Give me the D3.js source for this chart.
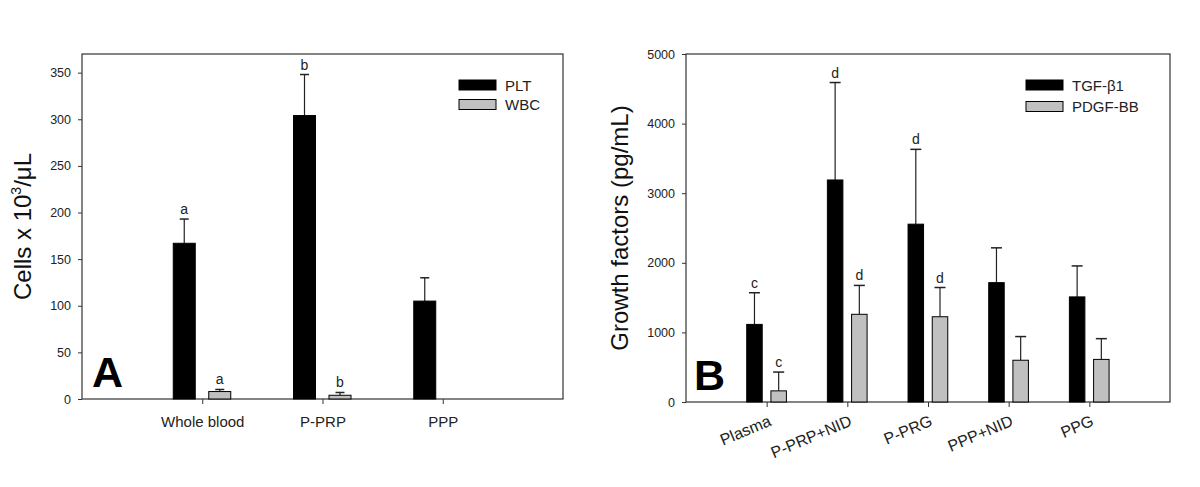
<!DOCTYPE html>
<html lang="en">
<head>
<meta charset="utf-8">
<title>Cells and growth factors</title>
<script src="https://d3js.org/d3.v7.min.js"></script>
<style>
  body { margin: 0; background: #fff; }
  svg { display: block; font-family: "Liberation Sans", Arial, sans-serif; }
</style>
</head>
<body>
<div id="chart"></div>
<script>
// ---- panel A data ----
const catsA = ["Whole blood", "P-PRP", "PPP"];
const pltVals = [167, 304, 105];
const pltErr = [26, 44, 25];
const pltLetters = ["a", "b", ""];
const wbcVals = [8, 4, null];
const wbcErr = [2.2, 3, null];
const wbcLetters = ["a", "b", ""];
const ticksA = [0, 50, 100, 150, 200, 250, 300, 350];

// ---- panel B data ----
const catsB = ["Plasma", "P-PRP+NID", "P-PRG", "PPP+NID", "PPG"];
const tgfVals = [1115, 3190, 2555, 1715, 1510];
const tgfErr = [455, 1400, 1075, 500, 445];
const tgfLetters = ["c", "d", "d", "", ""];
const pdgfVals = [160, 1260, 1225, 600, 612];
const pdgfErr = [270, 415, 420, 340, 298];
const pdgfLetters = ["c", "d", "d", "", ""];
const ticksB = [0, 1000, 2000, 3000, 4000, 5000];

const width = 1200, height = 487;
const svg = d3.select("#chart").append("svg")
  .attr("width", width).attr("height", height);

function panel(o) {
  const x = d3.scaleLinear().domain([0, o.cats.length + 1]).range([o.left, o.right]);
  const y = d3.scaleLinear().domain([0, o.ymax]).range([o.bottom, o.top]);
  const g = svg.append("g");

  // frame
  g.append("rect")
    .attr("x", o.left).attr("y", o.top)
    .attr("width", o.right - o.left).attr("height", o.bottom - o.top)
    .attr("fill", "none").attr("stroke", "#333").attr("stroke-width", 1.2);

  // y axis
  g.append("g")
    .attr("transform", `translate(${o.left},0)`)
    .call(d3.axisLeft(y).tickValues(o.ticks).tickSize(4).tickPadding(7).tickFormat(d3.format("d")))
    .call(a => a.select(".domain").remove())
    .call(a => a.selectAll("line").attr("stroke", "#333"))
    .call(a => a.selectAll("text").attr("font-size", 12.5).attr("fill", "#222")
      .attr("font-family", "Liberation Sans, Arial, sans-serif"));

  // x axis
  const xa = g.append("g")
    .attr("transform", `translate(0,${o.bottom})`)
    .call(d3.axisBottom(x).tickValues(d3.range(1, o.cats.length + 1))
      .tickSize(5).tickPadding(12).tickFormat((d, i) => o.cats[i]))
    .call(a => a.select(".domain").remove())
    .call(a => a.selectAll("line").attr("stroke", "#333"))
    .call(a => a.selectAll("text").attr("font-size", 15).attr("fill", "#222")
      .attr("font-family", "Liberation Sans, Arial, sans-serif"));
  if (o.rotate) {
    xa.selectAll("text")
      .attr("text-anchor", "end")
      .attr("font-size", 16)
      .attr("dy", null)
      .attr("y", null)
      .attr("transform", `translate(5,23) rotate(${o.rotate})`);
  }

  // series
  o.series.forEach(s => {
    const cx = (i) => x(i + 1) + s.offset;
    const data = s.vals.map((v, i) => ({v, e: s.err[i], l: s.letters[i], i}))
      .filter(d => d.v != null);
    const sg = g.append("g");
    // error bars (upper only)
    sg.selectAll(".eb").data(data).join("line")
      .attr("x1", d => cx(d.i)).attr("x2", d => cx(d.i))
      .attr("y1", d => y(d.v)).attr("y2", d => y(d.v + d.e))
      .attr("stroke", "#222").attr("stroke-width", 1.2);
    sg.selectAll(".cap").data(data).join("line")
      .attr("x1", d => cx(d.i) - o.cap / 2).attr("x2", d => cx(d.i) + o.cap / 2)
      .attr("y1", d => y(d.v + d.e)).attr("y2", d => y(d.v + d.e))
      .attr("stroke", "#222").attr("stroke-width", 1.5);
    sg.selectAll("rect").data(data).join("rect")
      .attr("x", d => cx(d.i) - o.bw / 2).attr("width", o.bw)
      .attr("y", d => y(d.v)).attr("height", d => y(0) - y(d.v))
      .attr("fill", s.fill).attr("stroke", "#000").attr("stroke-width", 1);
    sg.selectAll("text").data(data.filter(d => d.l)).join("text")
      .attr("x", d => cx(d.i)).attr("y", d => y(d.v + d.e) - 5)
      .attr("text-anchor", "middle").attr("font-size", 14).attr("fill", "#222")
      .text(d => d.l);
  });

  // legend
  o.series.forEach((s, k) => {
    const ly = o.legY + k * o.legGap;
    g.append("rect").attr("x", o.legX).attr("y", ly).attr("width", 37).attr("height", 10)
      .attr("fill", s.fill).attr("stroke", "#000").attr("stroke-width", 1);
    g.append("text").attr("x", o.legX + 46).attr("y", ly + 10.5)
      .attr("font-size", 15).attr("fill", "#222").text(s.name);
  });

  // panel letter
  g.append("text").attr("x", o.letterX).attr("y", o.bottom - 12)
    .attr("font-size", 43).attr("font-weight", "bold").attr("fill", "#000").text(o.letter);

  // y title
  const yt = g.append("text")
    .attr("transform", `translate(${o.titleX},${(o.top + o.bottom) / 2}) rotate(-90)`)
    .attr("text-anchor", "middle").attr("font-size", 24).attr("fill", "#111");
  o.title(yt);
}

panel({
  cats: catsA, ymax: 370, ticks: ticksA,
  left: 82, right: 563, top: 54, bottom: 399,
  bw: 22, cap: 9,
  series: [
    {name: "PLT", vals: pltVals, err: pltErr, letters: pltLetters, fill: "#000", offset: -18},
    {name: "WBC", vals: wbcVals, err: wbcErr, letters: wbcLetters, fill: "#c0c0c0", offset: 17.5}
  ],
  legX: 459, legY: 80, legGap: 19.5,
  letter: "A", letterX: 92, titleX: 31,
  title: t => {
    t.append("tspan").text("Cells x 10");
    t.append("tspan").attr("font-size", 14).attr("dy", -10).text("3");
    t.append("tspan").attr("dy", 10).text("/\u03BCL");
  }
});

panel({
  cats: catsB, ymax: 5000, ticks: ticksB,
  left: 686, right: 1170, top: 54, bottom: 402,
  bw: 15.5, cap: 11, rotate: -23,
  series: [
    {name: "TGF-\u03B21", vals: tgfVals, err: tgfErr, letters: tgfLetters, fill: "#000", offset: -12.2},
    {name: "PDGF-BB", vals: pdgfVals, err: pdgfErr, letters: pdgfLetters, fill: "#c0c0c0", offset: 12}
  ],
  legX: 1026, legY: 80, legGap: 21.5,
  letter: "B", letterX: 694, titleX: 628,
  title: t => t.text("Growth factors (pg/mL)")
});
</script>
</body>
</html>
